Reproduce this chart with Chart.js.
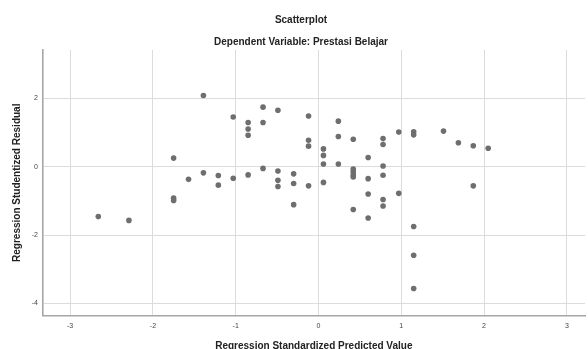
<!DOCTYPE html>
<html>
<head>
<meta charset="utf-8">
<script src="https://cdn.jsdelivr.net/npm/chart.js@4"></script>
<style>
  html, body { margin: 0; padding: 0; background: #ffffff; }
  #wrap { width: 588px; height: 349px; position: relative; }
</style>
</head>
<body>
<div id="wrap"><canvas id="c" width="588" height="349"></canvas></div>
<script>
const chartTitle = "Scatterplot";
const chartSubtitle = "Dependent Variable: Prestasi Belajar";
const xAxisTitle = "Regression Standardized Predicted Value";
const yAxisTitle = "Regression Studentized Residual";

// Regression Standardized Predicted Value
const predicted = [
  -2.66, -2.29, -1.75, -1.75, -1.75, -1.57, -1.39, -1.39, -1.21, -1.21,
  -1.03, -1.03, -0.85, -0.85, -0.85, -0.85, -0.67, -0.67, -0.67, -0.49,
  -0.49, -0.49, -0.49, -0.30, -0.30, -0.30, -0.12, -0.12, -0.12, -0.12,
   0.06,  0.06,  0.06,  0.06,  0.24,  0.24,  0.24,  0.42,  0.42,  0.42,
   0.42,  0.42,  0.42,  0.60,  0.60,  0.60,  0.60,  0.78,  0.78,  0.78,
   0.78,  0.78,  0.78,  0.97,  0.97,  1.15,  1.15,  1.15,  1.15,  1.15,
   1.51,  1.69,  1.87,  1.87,  2.05
];
// Regression Studentized Residual
const residual = [
  -1.46, -1.57,  0.25, -0.92, -0.99, -0.37,  2.08, -0.18, -0.26, -0.54,
   1.45, -0.34,  1.29,  1.10,  0.92, -0.24,  1.74,  1.29, -0.05,  1.65,
  -0.13, -0.40, -0.58, -0.21, -0.49, -1.11,  1.48,  0.77,  0.60, -0.56,
   0.52,  0.33,  0.08, -0.46,  1.33,  0.88,  0.08,  0.80, -0.07, -0.15,
  -0.24, -0.30, -1.25,  0.27, -0.35, -0.80, -1.50,  0.82,  0.65,  0.02,
  -0.25, -0.96, -1.15,  1.01, -0.78,  1.02,  0.93, -1.75, -2.59, -3.56,
   1.04,  0.70,  0.61, -0.56,  0.54
];
const xTicks = [-3, -2, -1, 0, 1, 2, 3];
const yTicks = [-4, -2, 0, 2];

const points = predicted.map((x, i) => ({ x: x, y: residual[i] }));

const titlePlugin = {
  id: 'topTitles',
  afterDraw(chart) {
    const ctx = chart.ctx;
    ctx.save();
    ctx.fillStyle = '#222222';
    ctx.textAlign = 'center';
    ctx.textBaseline = 'middle';
    ctx.font = 'bold 10px "Liberation Sans", Arial, sans-serif';
    ctx.fillText(chartTitle, 301, 20);
    ctx.fillText(chartSubtitle, 301, 42);
    ctx.restore();
  }
};

new Chart(document.getElementById('c'), {
  type: 'scatter',
  data: {
    datasets: [{
      data: points,
      backgroundColor: '#6e6e6e',
      borderColor: '#6e6e6e',
      borderWidth: 0,
      pointRadius: 2.8,
      pointHoverRadius: 2.8
    }]
  },
  options: {
    responsive: false,
    animation: false,
    events: [],
    layout: { padding: { top: 50, left: 0, right: 0, bottom: 0 } },
    plugins: {
      legend: { display: false },
      tooltip: { enabled: false },
      title: { display: false }
    },
    scales: {
      x: {
        type: 'linear',
        min: -3.334,
        max: 3.222,
        afterFit(scale) { scale.height = 33.5; },
        afterBuildTicks(scale) { scale.ticks = xTicks.map(v => ({ value: v })); },
        ticks: {
          padding: 6,
          color: '#444444',
          font: { family: '"Liberation Sans", Arial, sans-serif', size: 7 },
          callback: v => String(v)
        },
        grid: { color: '#dcdcdc', lineWidth: 1, drawTicks: false },
        border: { color: '#a6a6a6', width: 1.6 },
        title: {
          display: true,
          text: xAxisTitle,
          color: '#222222',
          font: { family: '"Liberation Sans", Arial, sans-serif', size: 10, weight: 'bold' },
          padding: { top: 0, bottom: -3 }
        }
      },
      y: {
        type: 'linear',
        min: -4.35,
        max: 3.41,
        afterFit(scale) { scale.width = 42.5; },
        afterBuildTicks(scale) { scale.ticks = yTicks.map(v => ({ value: v })); },
        ticks: {
          padding: 4.5,
          color: '#444444',
          font: { family: '"Liberation Sans", Arial, sans-serif', size: 7 },
          callback: v => String(v)
        },
        grid: { color: '#dcdcdc', lineWidth: 1, drawTicks: false },
        border: { color: '#a6a6a6', width: 1.6 },
        title: {
          display: true,
          text: yAxisTitle,
          color: '#222222',
          font: { family: '"Liberation Sans", Arial, sans-serif', size: 10, weight: 'bold' },
          padding: { top: 11, bottom: 0 }
        }
      }
    }
  },
  plugins: [titlePlugin]
});
</script>
</body>
</html>
